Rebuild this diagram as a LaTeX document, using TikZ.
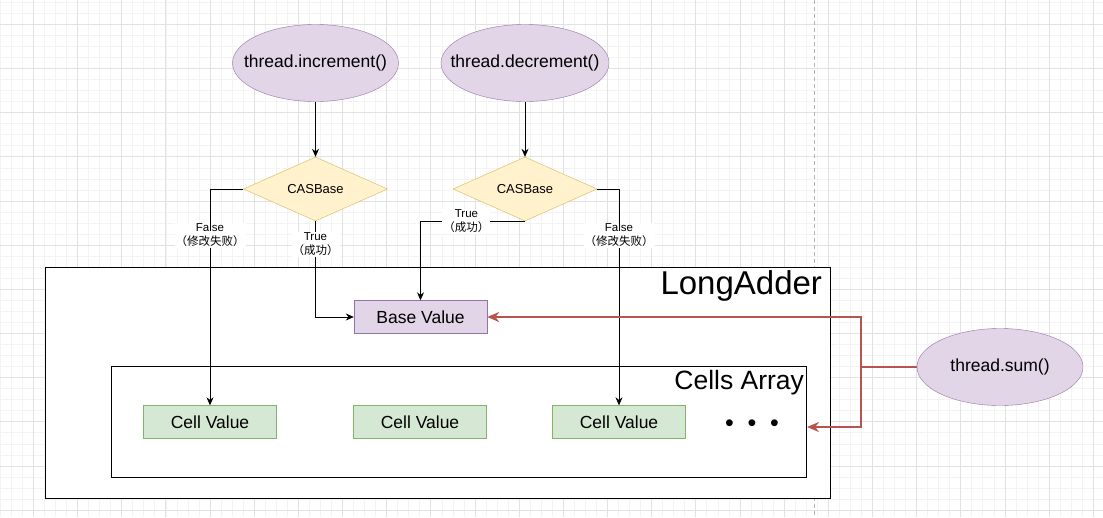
\documentclass[tikz,border=0pt]{standalone}
\usepackage{fontspec}
\setmainfont{Liberation Sans}
\newfontfamily\cjk{Noto Sans CJK SC}
\usetikzlibrary{shapes.geometric,arrows.meta}
\definecolor{threadfill}{HTML}{E1D5E7}
\definecolor{threadline}{HTML}{9673A6}
\definecolor{casfill}{HTML}{FFF2CC}
\definecolor{casline}{HTML}{D6B656}
\definecolor{cellfill}{HTML}{D5E8D4}
\definecolor{cellline}{HTML}{82B366}
\definecolor{sumcolor}{HTML}{B85450}
\definecolor{gridminor}{HTML}{F3F3F3}
\definecolor{gridmajor}{HTML}{E2E2E2}

\begin{document}
\begin{tikzpicture}[
    x=1pt, y=-1pt,
    >={Stealth[length=8pt,width=7pt]},
    threadnode/.style={ellipse, draw=threadline, fill=threadfill, inner xsep=-15pt, inner ysep=0pt,
        minimum width=166pt, minimum height=77pt, font=\fontsize{17.5}{20}\selectfont},
    casnode/.style={diamond, draw=casline, fill=casfill, inner sep=0pt, aspect=2.25,
        minimum width=144pt, minimum height=64pt, font=\fontsize{13}{15}\selectfont},
    valnode/.style={rectangle, inner sep=0pt, minimum width=133pt, minimum height=33pt,
        font=\fontsize{17.5}{20}\selectfont},
    basenode/.style={valnode, draw=threadline, fill=threadfill},
    cellnode/.style={valnode, draw=cellline, fill=cellfill},
    boxnode/.style={rectangle, draw=black, fill=white, inner sep=0pt},
    edgelbl/.style={fill=white, inner sep=1pt, align=center, font=\fontsize{11.5}{14}\selectfont},
    conn/.style={->, black, line width=0.8pt},
    sumconn/.style={-{Stealth[length=12pt,width=10pt]}, sumcolor, line width=2pt}
]

% Canvas: 1103 x 517 (units are pt, y grows downwards)
\useasboundingbox (0,0) rectangle (1103,517);
\fill[white] (0,0) rectangle (1103,517);

% Background grid
\foreach \i in {0,...,99} {
    \draw[gridminor, line width=0.6pt] ({0.2+\i*11.04},0) -- ({0.2+\i*11.04},517);
}
\foreach \j in {0,...,46} {
    \draw[gridminor, line width=0.6pt] (0,{2.2+\j*11.04}) -- (1103,{2.2+\j*11.04});
}
\foreach \i in {0,...,24} {
    \draw[gridmajor, line width=0.8pt] ({33.3+\i*44.17},0) -- ({33.3+\i*44.17},517);
}
\foreach \j in {0,...,11} {
    \draw[gridmajor, line width=0.8pt] (0,{24.3+\j*44.17}) -- (1103,{24.3+\j*44.17});
}

% Page break
\draw[gray!60, line width=1pt, dash pattern=on 4pt off 3pt] (814.3,0) -- (814.3,517);

% Containers
\node[boxnode, minimum width=785pt, minimum height=231pt,
    label={[anchor=north east, inner sep=2pt, xshift=-6pt, yshift=-1.5pt, font=\fontsize{33}{35}\selectfont]north east:LongAdder}]
    (adder) at (437.5,382.5) {};
\node[boxnode, minimum width=695pt, minimum height=111pt,
    label={[anchor=north east, inner sep=2pt, xshift=0pt, yshift=-2pt, font=\fontsize{26.5}{28}\selectfont]north east:Cells Array}]
    (cells) at (458.5,421.5) {};

% Values
\node[basenode] (base) at (420.5,317) {Base Value};
\node[cellnode] (cellA) at (210,422) {Cell Value};
\node[cellnode] (cellB) at (420,422) {Cell Value};
\node[cellnode] (cellC) at (619,422) {Cell Value};
\node[font=\fontsize{25}{25}\selectfont] (dots) at (752,425.5) {•\hspace{13.8pt}•\hspace{13.8pt}•};

% Threads
\node[threadnode] (inc) at (315.5,63) {thread.increment()};
\node[threadnode] (dec) at (525,63) {thread.decrement()};
\node[threadnode] (sum) at (1000,367) {thread.sum()};

% CAS on base
\node[casnode] (casA) at (315.5,189) {CASBase};
\node[casnode] (casB) at (525,189) {CASBase};

\draw[conn] (inc) -- (casA);
\draw[conn] (dec) -- (casB);

\draw[conn] (casA.west) -| (cellA.north)
    node[edgelbl, pos=0.607] {False\\{\cjk （修改失败）}};
\draw[conn] (casA.south) |- (base.west)
    node[edgelbl, pos=0.12] {True\\{\cjk （成功）}};
\draw[conn] (casB.south) -| (base.north)
    node[edgelbl, pos=0.28] {True\\{\cjk （成功）}};
\draw[conn] (casB.east) -| (cellC.north)
    node[edgelbl, pos=0.607] {False\\{\cjk （修改失败）}};

% Sum reads base and all cells
\coordinate (fork) at (861,367);
\coordinate (cellsin) at (807,427);
\draw[sumcolor, line width=2pt] (sum.west) -- (fork);
\draw[sumconn] (fork) |- (base.east);
\draw[sumconn] (fork) |- (cellsin);

\end{tikzpicture}
\end{document}
